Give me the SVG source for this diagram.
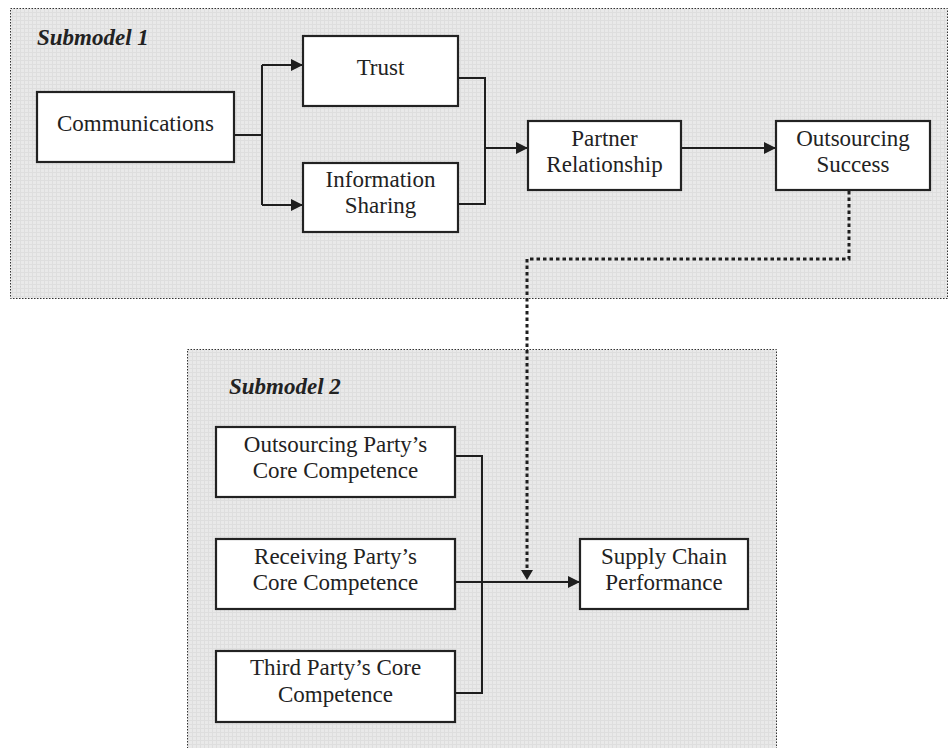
<svg xmlns="http://www.w3.org/2000/svg" width="949" height="748" viewBox="0 0 949 748">
<defs>
<pattern id="grid" width="4" height="4" patternUnits="userSpaceOnUse">
<rect width="4" height="4" fill="#e9e9e9"/>
<rect width="1" height="4" fill="#dedede"/>
<rect width="4" height="1" fill="#dedede"/>
</pattern>
<marker id="arr" viewBox="0 0 12 12" refX="12" refY="6" markerWidth="12" markerHeight="12" markerUnits="userSpaceOnUse" orient="auto">
<path d="M0,0 L12,6 L0,12 Z" fill="#1e1e1e"/>
</marker>
</defs>
<style>
.panel{fill:url(#grid);stroke:#333;stroke-width:1;stroke-dasharray:1.5 1.5}
.node{fill:#fff;stroke:#222;stroke-width:2.2}
.t{font-family:"Liberation Serif","Times New Roman",serif;font-size:23px;fill:#222;text-anchor:middle}
.lbl{font-family:"Liberation Serif","Times New Roman",serif;font-size:23px;font-weight:bold;font-style:italic;fill:#222}
.c{fill:none;stroke:#1e1e1e;stroke-width:2}
.d{fill:none;stroke:#1e1e1e;stroke-width:3;stroke-dasharray:3.5 3}
</style>
<g id="submodel1">
<rect class="panel" x="10.5" y="8.5" width="937" height="290"/>
<text class="lbl" x="37" y="45">Submodel 1</text>
</g>
<g id="submodel2">
<rect class="panel" x="187.5" y="349.5" width="589" height="410"/>
<text class="lbl" x="229" y="394">Submodel 2</text>
</g>
<g id="connectors">
<path class="c" d="M234,135 H262 M262,65 V205"/>
<path class="c" d="M262,65 H303" marker-end="url(#arr)"/>
<path class="c" d="M262,205 H303" marker-end="url(#arr)"/>
<path class="c" d="M458,78 H485 V204 H458"/>
<path class="c" d="M485,148 H528" marker-end="url(#arr)"/>
<path class="c" d="M681,148 H776" marker-end="url(#arr)"/>
<path class="c" d="M455,456 H482 V693 H455"/>
<path class="c" d="M455,582 H580" marker-end="url(#arr)"/>
<path class="d" d="M849,191 V259 H527 V568"/>
<path d="M521,570 L527,580 L533,570 Z" fill="#1e1e1e"/>
</g>
<g id="communications">
<rect class="node" x="37" y="92" width="197" height="70"/>
<text class="t" x="135.5" y="131">Communications</text>
</g>
<g id="trust">
<rect class="node" x="303" y="36" width="155" height="70"/>
<text class="t" x="380.5" y="75">Trust</text>
</g>
<g id="information-sharing">
<rect class="node" x="303" y="163" width="155" height="69"/>
<text class="t" x="380.5" y="187">Information</text>
<text class="t" x="380.5" y="213">Sharing</text>
</g>
<g id="partner-relationship">
<rect class="node" x="528" y="121" width="153" height="69"/>
<text class="t" x="604.5" y="146">Partner</text>
<text class="t" x="604.5" y="172">Relationship</text>
</g>
<g id="outsourcing-success">
<rect class="node" x="776" y="121" width="154" height="69"/>
<text class="t" x="853" y="146">Outsourcing</text>
<text class="t" x="853" y="172">Success</text>
</g>
<g id="outsourcing-party">
<rect class="node" x="216" y="427" width="239" height="70"/>
<text class="t" x="335.5" y="452">Outsourcing Party’s</text>
<text class="t" x="335.5" y="478">Core Competence</text>
</g>
<g id="receiving-party">
<rect class="node" x="216" y="539" width="239" height="70"/>
<text class="t" x="335.5" y="564">Receiving Party’s</text>
<text class="t" x="335.5" y="590">Core Competence</text>
</g>
<g id="third-party">
<rect class="node" x="216" y="651" width="239" height="71"/>
<text class="t" x="335.5" y="675">Third Party’s Core</text>
<text class="t" x="335.5" y="702">Competence</text>
</g>
<g id="supply-chain">
<rect class="node" x="580" y="539" width="168" height="70"/>
<text class="t" x="664" y="564">Supply Chain</text>
<text class="t" x="664" y="590">Performance</text>
</g>
</svg>
